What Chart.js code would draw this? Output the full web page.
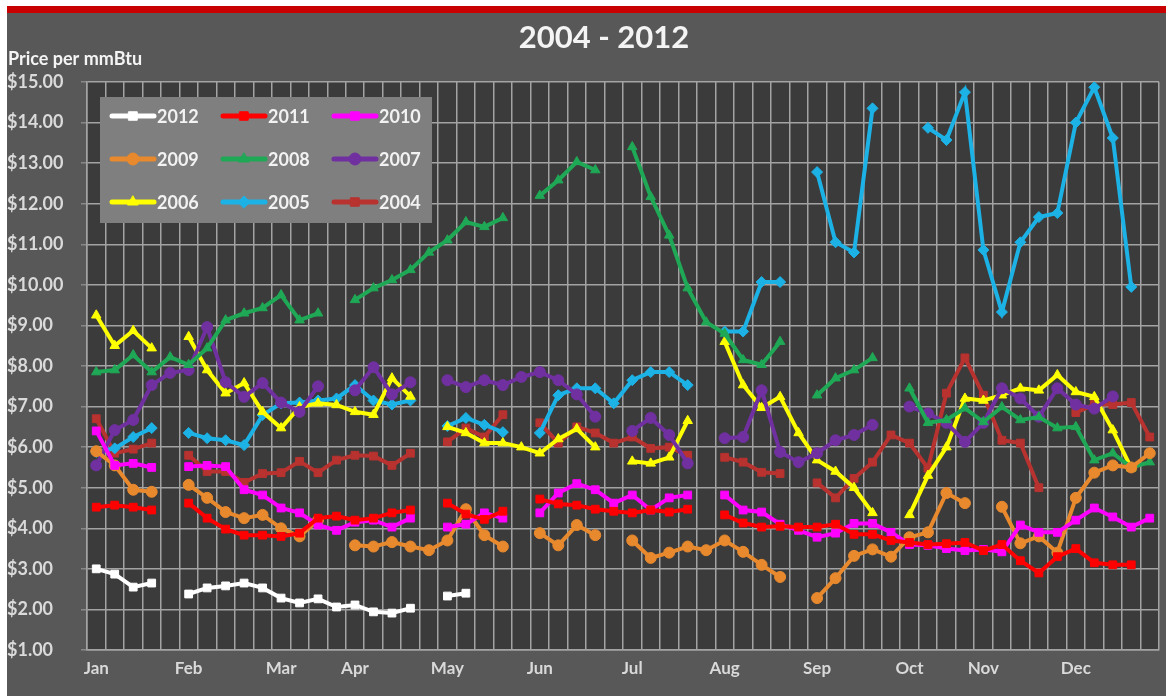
<!DOCTYPE html>
<html>
<head>
<meta charset="utf-8">
<title>Natural gas price per mmBtu, 2004 - 2012</title>
<script src="https://cdn.jsdelivr.net/npm/chart.js@4.4.0/dist/chart.umd.min.js"></script>
<style>
    html, body { margin: 0; padding: 0; background: #ffffff; }
    #wrap { width: 1166px; height: 696px; }
</style>
</head>
<body>
<div id="wrap"><canvas id="gasChart" width="1166" height="696"></canvas></div>
<script>
// weekly slots, month name on the first week of each month
const weekLabels = [
    'Jan', '', '', '', '',
    'Feb', '', '', '', '',
    'Mar', '', '', '',
    'Apr', '', '', '', '',
    'May', '', '', '', '',
    'Jun', '', '', '', '',
    'Jul', '', '', '', '',
    'Aug', '', '', '', '',
    'Sep', '', '', '', '',
    'Oct', '', '', '',
    'Nov', '', '', '', '',
    'Dec', '', '', '', ''
];

const seriesYears = ['2012', '2011', '2010', '2009', '2008', '2007', '2006', '2005', '2004'];

const prices2012 = [3.0, 2.87, 2.55, 2.65, null, 2.38, 2.53, 2.58, 2.65, 2.53, 2.28, 2.16, 2.26, 2.06,
    2.11, 1.94, 1.91, 2.03, null, 2.33, 2.40, null, null, null,
    null, null, null, null, null, null, null, null, null, null, null, null, null, null, null, null, null,
    null, null, null, null, null, null, null, null, null, null, null, null, null, null, null, null, null];

const prices2011 = [4.52, 4.57, 4.52, 4.45, null, 4.62, 4.25, 3.98, 3.83, 3.83, 3.8, 3.88, 4.25, 4.3,
    4.2, 4.25, 4.38, 4.45, null, 4.62, 4.35, 4.22, 4.42, null, 4.72, 4.6, 4.57, 4.47, 4.42,
    4.38, 4.45, 4.4, 4.47, null, 4.33, 4.13, 4.03, 4.05, 4.03, 4.03, 4.1, 3.85, 3.85, 3.7,
    3.65, 3.6, 3.62, 3.65, 3.45, 3.6, 3.2, 2.9, 3.3, 3.5, 3.15, 3.1, 3.1, null];

const prices2010 = [6.4, 5.55, 5.6, 5.5, null, 5.52, 5.55, 5.52, 4.95, 4.82, 4.5, 4.38, 4.08, 3.95,
    4.15, 4.2, 4.03, 4.25, null, 4.03, 4.1, 4.38, 4.25, null, 4.38, 4.87, 5.1, 4.95, 4.62,
    4.82, 4.45, 4.75, 4.82, null, 4.82, 4.45, 4.4, 4.1, 3.95, 3.78, 3.88, 4.12, 4.12, 3.9,
    3.6, 3.58, 3.5, 3.45, 3.48, 3.42, 4.08, 3.9, 3.9, 4.2, 4.5, 4.28, 4.03, 4.25];

const prices2009 = [5.9, 5.55, 4.95, 4.9, null, 5.07, 4.75, 4.4, 4.25, 4.33, 4.0, 3.8, 4.2, null,
    3.58, 3.55, 3.66, 3.55, 3.46, 3.7, 4.47, 3.83, 3.55, null, 3.88, 3.58, 4.08, 3.83, null,
    3.7, 3.27, 3.4, 3.55, 3.46, 3.7, 3.42, 3.1, 2.8, null, 2.28, 2.77, 3.32, 3.48, 3.3,
    3.78, 3.9, 4.87, 4.62, null, 4.53, 3.63, 3.8, 3.4, 4.75, 5.37, 5.55, 5.5, 5.85];

const prices2008 = [7.85, 7.9, 8.27, 7.85, 8.22, 8.03, 8.44, 9.13, 9.3, 9.43, 9.75, 9.13, 9.3, null,
    9.63, 9.92, 10.12, 10.37, 10.8, 11.1, 11.55, 11.43, 11.65, null, 12.2, 12.58, 13.03, 12.83, null,
    13.4, 12.17, 11.22, 9.92, 9.08, 8.8, 8.15, 8.03, 8.6, null, 7.28, 7.7, 7.9, 8.2, null,
    7.45, 6.6, 6.67, 6.96, 6.62, 6.99, 6.67, 6.74, 6.47, 6.5, 5.68, 5.85, 5.5, 5.63];

const prices2007 = [5.55, 6.42, 6.67, 7.53, 7.83, 7.9, 8.96, 7.6, 7.24, 7.58, 7.1, 6.87, 7.5, null,
    7.4, 7.97, 7.3, 7.6, null, 7.65, 7.48, 7.65, 7.53, 7.73, 7.85, 7.65, 7.3, 6.75, null,
    6.4, 6.72, 6.3, 5.6, null, 6.22, 6.25, 7.4, 5.88, 5.63, 5.85, 6.17, 6.3, 6.55, null,
    7.0, 6.83, 6.6, 6.13, 6.6, 7.45, 7.2, 6.75, 7.45, 7.05, 6.95, 7.25, null, null];

const prices2006 = [9.25, 8.5, 8.87, 8.44, null, 8.72, 7.9, 7.33, 7.58, 6.87, 6.47, 6.99, 7.08, 7.04,
    6.87, 6.8, 7.7, 7.25, null, 6.5, 6.35, 6.1, 6.1, 6.0, 5.85, 6.2, 6.45, 6.0, null,
    5.65, 5.6, 5.75, 6.65, null, 8.6, 7.53, 6.97, 7.24, 6.35, 5.68, 5.4, 5.0, 4.38, null,
    4.33, 5.3, 6.0, 7.2, 7.15, 7.28, 7.45, 7.4, 7.78, 7.36, 7.24, 6.42, 5.48, null];

const prices2005 = [5.88, 5.97, 6.25, 6.47, null, 6.35, 6.22, 6.17, 6.05, 6.79, 7.08, 7.1, 7.15, 7.2,
    7.53, 7.15, 7.05, 7.15, null, 6.52, 6.72, 6.55, 6.37, null, 6.35, 7.28, 7.45, 7.45, 7.08,
    7.65, 7.85, 7.85, 7.53, null, 8.85, 8.85, 10.07, 10.07, null, 12.78, 11.05, 10.8, 14.35, null,
    null, 13.87, 13.57, 14.75, 10.86, 9.33, 11.05, 11.67, 11.77, 14.0, 14.87, 13.62, 9.95, null];

const prices2004 = [6.7, 5.85, 5.95, 6.1, null, 5.8, 5.4, 5.4, 5.13, 5.35, 5.37, 5.65, 5.37, 5.68,
    5.8, 5.78, 5.55, 5.85, null, 6.13, 6.47, 6.25, 6.8, null, 6.6, 6.1, 6.5, 6.35, 6.1,
    6.25, 5.97, 6.0, 5.8, null, 5.75, 5.63, 5.38, 5.35, null, 5.12, 4.75, 5.23, 5.63, 6.3,
    6.1, 5.48, 7.33, 8.2, 7.28, 6.17, 6.1, 5.0, null, 6.85, 7.05, 7.05, 7.1, 6.25];

const yTicks = [1, 2, 3, 4, 5, 6, 7, 8, 9, 10, 11, 12, 13, 14, 15];

// styles kept apart from the values
const seriesColors = ['#ffffff', '#ff0000', '#ff00ff', '#e8892e', '#1fa855', '#7030a0', '#ffff00', '#1cb2e6', '#b8322f'];
const seriesMarkers = ['rect', 'rect', 'rect', 'circle', 'triangle', 'circle', 'triangle', 'rectRot', 'rect'];
const seriesData = [prices2012, prices2011, prices2010, prices2009, prices2008, prices2007, prices2006, prices2005, prices2004];

const FONT = 'Lato, "Open Sans", sans-serif';

// background panels, red band, title and axis caption
const frame = {
    id: 'frame',
    beforeDraw(chart) {
        const ctx = chart.ctx;
        const a = chart.chartArea;
        ctx.save();
        ctx.fillStyle = '#ffffff';
        ctx.fillRect(0, 0, chart.width, chart.height);
        ctx.fillStyle = '#585858';
        ctx.fillRect(7, 7, chart.width - 7, chart.height - 7);
        ctx.fillStyle = '#c80000';
        ctx.fillRect(7, 6, chart.width - 7, 7);
        ctx.fillStyle = '#3b3b3b';
        ctx.fillRect(a.left, a.top, a.right - a.left, a.bottom - a.top);

        ctx.fillStyle = '#f4f4f4';
        ctx.textAlign = 'center';
        ctx.textBaseline = 'middle';
        ctx.font = 'bold 31px ' + FONT;
        ctx.fillText('2004 - 2012', 604, 38);

        ctx.textAlign = 'left';
        ctx.font = 'bold 18px ' + FONT;
        ctx.fillText('Price per mmBtu', 8, 59);
        ctx.restore();
    }
};

// legend panel drawn inside the plot, 3 x 3
const legendPanel = {
    id: 'legendPanel',
    afterDatasetsDraw(chart) {
        const ctx = chart.ctx;
        ctx.save();
        ctx.fillStyle = '#7f7f7f';
        ctx.fillRect(100, 97, 332, 126);
        chart.data.datasets.forEach((ds, i) => {
            const x = 112 + (i % 3) * 111;
            const y = 116 + Math.floor(i / 3) * 43;
            ctx.strokeStyle = ds.borderColor;
            ctx.lineWidth = 5;
            ctx.lineCap = 'round';
            ctx.beginPath();
            ctx.moveTo(x, y);
            ctx.lineTo(x + 42, y);
            ctx.stroke();
            ctx.fillStyle = ds.borderColor;
            ctx.lineWidth = 1;
            Chart.helpers.drawPoint(ctx, { pointStyle: ds.pointStyle, radius: 6, rotation: 0, borderWidth: 1 }, x + 21, y);
            ctx.fillStyle = '#f2f2f2';
            ctx.font = 'bold 18px ' + FONT;
            ctx.textAlign = 'left';
            ctx.textBaseline = 'middle';
            ctx.fillText(ds.label, x + 45, y + 1);
        });
        ctx.restore();
    }
};

const datasets = seriesYears.map((yr, i) => ({
    label: yr,
    data: seriesData[i],
    borderColor: seriesColors[i],
    backgroundColor: seriesColors[i],
    borderWidth: 4,
    pointStyle: seriesMarkers[i],
    pointRadius: 5.5,
    pointBorderWidth: 1,
    pointBackgroundColor: seriesColors[i],
    pointBorderColor: seriesColors[i],
    tension: 0,
    spanGaps: false
}));

new Chart(document.getElementById('gasChart'), {
    type: 'line',
    data: { labels: weekLabels, datasets: datasets },
    options: {
        responsive: false,
        animation: false,
        events: [],
        layout: { padding: { left: 7, right: 7, top: 82, bottom: 10 } },
        plugins: {
            legend: { display: false },
            title: { display: false },
            tooltip: { enabled: false }
        },
        scales: {
            x: {
                type: 'category',
                offset: true,
                grid: { color: '#a3a3a3', lineWidth: 1.5, offset: true, drawTicks: false },
                border: { color: '#a3a3a3', width: 1.5 },
                ticks: {
                    autoSkip: false,
                    maxRotation: 0,
                    padding: 8,
                    color: '#d9d9d9',
                    font: { family: FONT, size: 17, weight: 'bold' }
                },
                afterFit(scale) { scale.height = 36; }
            },
            y: {
                min: yTicks[0],
                max: yTicks[yTicks.length - 1],
                grid: { color: '#a3a3a3', lineWidth: 1.5, drawTicks: true, tickLength: 6, tickColor: '#888' },
                border: { color: '#a3a3a3', width: 1.5 },
                ticks: {
                    stepSize: 1,
                    crossAlign: 'far',
                    padding: 4,
                    color: '#dadada',
                    font: { family: FONT, size: 18, weight: 'bold' },
                    callback: v => '$' + Number(v).toFixed(2)
                },
                afterFit(scale) { scale.width = 80; }
            }
        }
    },
    plugins: [frame, legendPanel]
});
</script>
</body>
</html>
